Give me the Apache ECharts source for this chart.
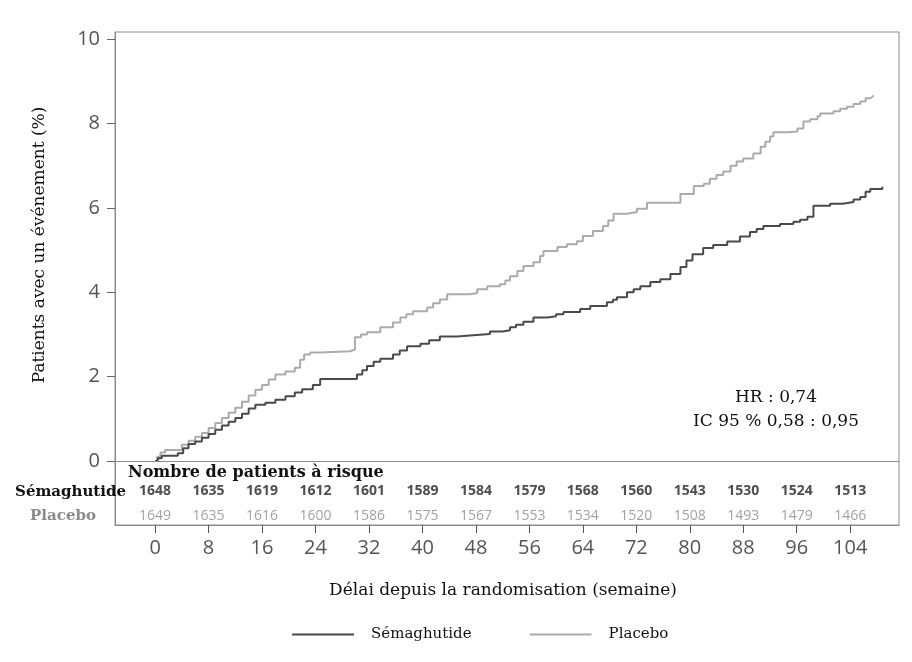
<!DOCTYPE html>
<html>
<head>
<meta charset="utf-8">
<script src="https://cdn.jsdelivr.net/npm/echarts@6/dist/echarts.min.js"></script>
<style>
  html, body { margin: 0; padding: 0; background: #fff; }
  #chart { width: 912px; height: 662px; }
</style>
</head>
<body>
<div id="chart"></div>
<script>
// ticks
const weekTicks = [0, 8, 16, 24, 32, 40, 48, 56, 64, 72, 80, 88, 96, 104];
const pctTicks = [0, 2, 4, 6, 8, 10];

// KM curves: [week, % with event]
const semaCurve = [
  [0, 0], [0.4, 0.06], [1.0, 0.12], [3.4, 0.18], [4.2, 0.3], [5.0, 0.4], [6.0, 0.46],
  [7.0, 0.55], [8.0, 0.64], [9.0, 0.74], [10.0, 0.84], [11.0, 0.93], [12.0, 1.02],
  [13.0, 1.12], [14.0, 1.24], [15.0, 1.33], [16.5, 1.38], [18.0, 1.45], [19.5, 1.53],
  [20.9, 1.62], [22.0, 1.7], [23.6, 1.8], [24.7, 1.94], [30.2, 2.05], [31.0, 2.15],
  [31.7, 2.25], [32.7, 2.35], [33.7, 2.42], [35.6, 2.52], [36.6, 2.62], [37.7, 2.72],
  [39.7, 2.78], [41.0, 2.86], [42.6, 2.95], [45.2, 2.98], [47.6, 3.01], [50.1, 3.07],
  [52.0, 3.1], [53.1, 3.17], [54.0, 3.23], [55.1, 3.3], [56.6, 3.4], [58.7, 3.43],
  [60.0, 3.48], [61.1, 3.53], [63.6, 3.6], [65.1, 3.67], [67.6, 3.76], [68.5, 3.82],
  [69.1, 3.88], [70.6, 4.0], [71.6, 4.07], [72.6, 4.14], [74.1, 4.24], [75.6, 4.31],
  [77.1, 4.43], [78.6, 4.6], [79.5, 4.75], [80.4, 4.9], [82.0, 5.05], [83.5, 5.12],
  [85.6, 5.2], [87.5, 5.32], [89.0, 5.43], [90.0, 5.5], [91.0, 5.57], [93.5, 5.62],
  [95.5, 5.67], [96.5, 5.72], [97.6, 5.79], [98.5, 6.05], [101.0, 6.1], [102.9, 6.14],
  [104.5, 6.2], [105.5, 6.26], [106.3, 6.38], [107.0, 6.45], [108.8, 6.5]
];
const placeboCurve = [
  [0, 0], [0.3, 0.1], [0.8, 0.2], [1.5, 0.26], [4.0, 0.38], [5.0, 0.48], [6.0, 0.57],
  [7.0, 0.66], [8.0, 0.78], [9.0, 0.9], [10.0, 1.02], [11.0, 1.14], [12.0, 1.26],
  [13.0, 1.4], [14.0, 1.55], [15.0, 1.69], [16.0, 1.8], [17.0, 1.93], [18.0, 2.05],
  [19.5, 2.12], [20.9, 2.21], [21.7, 2.4], [22.3, 2.52], [23.2, 2.57], [24.7, 2.6],
  [29.2, 2.64], [29.9, 2.93], [30.8, 3.0], [31.7, 3.05], [33.7, 3.17], [35.6, 3.28],
  [36.7, 3.4], [37.6, 3.48], [38.6, 3.55], [40.7, 3.64], [41.6, 3.74], [42.6, 3.83],
  [43.7, 3.95], [47.1, 3.98], [48.2, 4.07], [49.7, 4.14], [51.6, 4.19], [52.4, 4.28],
  [53.1, 4.38], [54.2, 4.5], [55.1, 4.62], [56.6, 4.71], [57.6, 4.86], [58.1, 4.98],
  [60.2, 5.07], [61.6, 5.14], [63.1, 5.21], [64.0, 5.33], [65.5, 5.45], [67.0, 5.57],
  [67.8, 5.7], [68.6, 5.86], [70.6, 5.9], [72.1, 5.98], [73.6, 6.12], [78.6, 6.33],
  [80.6, 6.52], [82.1, 6.57], [83.0, 6.69], [84.0, 6.78], [85.0, 6.86], [86.1, 7.0],
  [87.0, 7.1], [88.0, 7.17], [89.5, 7.29], [90.6, 7.45], [91.3, 7.57], [92.0, 7.69],
  [92.5, 7.79], [94.6, 7.81], [96.1, 7.88], [97.0, 8.05], [98.0, 8.1], [99.1, 8.17],
  [99.5, 8.24], [101.5, 8.29], [102.5, 8.35], [103.5, 8.4], [104.5, 8.46], [105.5, 8.52],
  [106.3, 8.6], [107.0, 8.64], [107.4, 8.67]
];

// patients at risk, one per week tick
const semaAtRisk = [1648, 1635, 1619, 1612, 1601, 1589, 1584, 1579, 1568, 1560, 1543, 1530, 1524, 1513];
const placeboAtRisk = [1649, 1635, 1616, 1600, 1586, 1575, 1567, 1553, 1534, 1520, 1508, 1493, 1479, 1466];

const seriesNames = ['Sémaghutide', 'Placebo'];
const hrText = ['HR : 0,74', 'IC 95 % 0,58 : 0,95'];

const SERIF = '"DejaVu Serif", "Liberation Serif", serif';
const SANS = '"Open Sans", "Noto Sans", sans-serif';
const DARK = '#4a4a4a';
const LIGHT = '#ababab';
const FRAME = '#8c8c8c';

// rows of the risk table live below zero on the y axis
const semaRowY = -0.72;
const placeboRowY = -1.31;

const chart = echarts.init(document.getElementById('chart'));

function riskSeries(counts, rowY, color, weight) {
  return {
    type: 'scatter',
    silent: true,
    symbolSize: 0,
    data: counts.map((n, i) => [weekTicks[i], rowY, n]),
    label: {
      show: true,
      position: 'inside',
      formatter: p => p.data[2],
      fontFamily: SANS,
      fontSize: 14,
      fontWeight: weight,
      color: color
    }
  };
}

const option = {
  animation: false,
  backgroundColor: '#fff',
  grid: {
    left: 115, right: 13, top: 32, bottom: 137,
    show: true, borderColor: FRAME, borderWidth: 1
  },
  xAxis: {
    type: 'value',
    min: -6, max: 111.3,
    axisLine: { show: true, onZero: false, lineStyle: { color: FRAME } },
    axisTick: { show: true, length: 8, customValues: weekTicks, lineStyle: { color: '#555' } },
    axisLabel: { customValues: weekTicks, margin: 13, fontFamily: SANS, fontSize: 20, color: '#555' },
    splitLine: { show: false }
  },
  yAxis: {
    type: 'value',
    min: -1.52, max: 10.17,
    axisLine: { show: true, onZero: false, lineStyle: { color: FRAME } },
    axisTick: { show: true, length: 8, customValues: pctTicks, lineStyle: { color: '#666' } },
    axisLabel: { customValues: pctTicks, margin: 15, fontFamily: SANS, fontSize: 20, color: '#555' },
    splitLine: { show: false }
  },
  legend: {
    data: seriesNames,
    left: 287, top: 622,
    icon: 'rect', itemWidth: 62, itemHeight: 2, itemGap: 58,
    textStyle: { fontFamily: SERIF, fontSize: 15, color: '#111', padding: [0, 0, 0, 12] }
  },
  series: [
    {
      name: seriesNames[0],
      type: 'line',
      step: 'end',
      symbol: 'none',
      color: DARK,
      lineStyle: { width: 2, color: DARK },
      data: semaCurve,
      markLine: {
        silent: true,
        symbol: 'none',
        label: { show: false },
        lineStyle: { color: FRAME, width: 1, type: 'solid' },
        data: [{ yAxis: 0 }]
      },
      z: 3
    },
    {
      name: seriesNames[1],
      type: 'line',
      step: 'end',
      symbol: 'none',
      color: LIGHT,
      lineStyle: { width: 2, color: LIGHT },
      data: placeboCurve,
      z: 2
    },
    riskSeries(semaAtRisk, semaRowY, '#222', 'bold'),
    riskSeries(placeboAtRisk, placeboRowY, '#8a8a8a', 'normal')
  ],
  graphic: [
    {
      type: 'text', x: 40, y: 245, rotation: Math.PI / 2,
      style: { text: 'Patients avec un événement (%)', font: '17px ' + SERIF, fill: '#111', textAlign: 'center', textVerticalAlign: 'middle' }
    },
    {
      type: 'text', x: 503, y: 591,
      style: { text: 'Délai depuis la randomisation (semaine)', font: '17px ' + SERIF, fill: '#111', textAlign: 'center', textVerticalAlign: 'middle' }
    },
    {
      type: 'text', x: 776, y: 398,
      style: { text: hrText[0], font: '17px ' + SERIF, fill: '#111', textAlign: 'center', textVerticalAlign: 'middle' }
    },
    {
      type: 'text', x: 776, y: 422,
      style: { text: hrText[1], font: '17px ' + SERIF, fill: '#111', textAlign: 'center', textVerticalAlign: 'middle' }
    },
    {
      type: 'text', x: 128, y: 473,
      style: { text: 'Nombre de patients à risque', font: 'bold 16px ' + SERIF, fill: '#111', textAlign: 'left', textVerticalAlign: 'middle' }
    },
    {
      type: 'text', x: 126, y: 492, z: 10,
      style: { text: seriesNames[0], font: 'bold 15px ' + SERIF, fill: '#111', textAlign: 'right', textVerticalAlign: 'middle' }
    },
    {
      type: 'text', x: 63, y: 516,
      style: { text: seriesNames[1], font: 'bold 15px ' + SERIF, fill: '#8a8a8a', textAlign: 'center', textVerticalAlign: 'middle' }
    }
  ]
};

chart.setOption(option);
</script>
</body>
</html>
